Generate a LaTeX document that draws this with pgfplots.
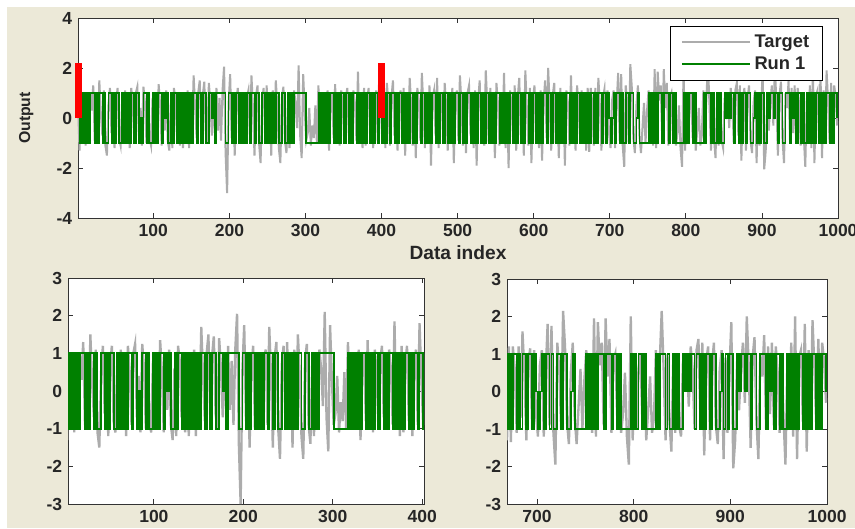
\documentclass[border=0pt]{standalone}
\usepackage{pgfplots}
\pgfplotsset{compat=1.18}
\usepackage{pgfplotstable}
\usepackage{fontspec}
\setmainfont{Liberation Sans}

\definecolor{figbg}{RGB}{236,233,216}
\definecolor{tgray}{RGB}{172,172,172}
\definecolor{rungreen}{RGB}{0,128,0}

% x = data index, t = target, r = run 1 output
\pgfplotstableread[row sep=\\]{
x t r\\
1 0.6 1\\ 3 -1.3 -1\\ 5 0.9 1\\ 7 -0.8 -1\\ 9 0.4 1\\ 11 -1.1 -1\\ 13 0.7 1\\ 15 -0.5 -1\\ 17 1.0 1\\ 19 0.3 1\\
21 1.3 1\\ 23 -0.9 -1\\ 25 0.8 1\\ 27 -1.0 -1\\ 29 1.5 1\\ 31 0.2 1\\ 33 -0.7 -1\\ 35 1.1 1\\ 37 -1.1 -1\\ 39 -1.5 -1\\
41 0.5 1\\ 43 1.2 1\\ 45 -0.6 -1\\ 47 0.9 1\\ 49 -1.2 -1\\ 51 0.6 1\\ 53 1.2 1\\ 55 -0.8 -1\\ 57 -1.1 -1\\ 59 0.7 1\\
61 -1.0 -1\\ 63 1.1 1\\ 65 -0.4 -1\\ 67 0.8 1\\ 69 -1.2 -1\\ 71 1.2 1\\ 73 0.5 1\\ 75 -0.9 -1\\ 77 1.0 1\\ 79 1.25 1\\
81 -0.7 -1\\ 83 0.4 0\\ 85 -1.1 -1\\ 87 1.25 1\\ 89 0.6 1\\ 91 -1.0 -1\\ 93 0.9 1\\ 95 -0.8 -1\\ 97 -1.1 -1\\ 99 0.8 1\\
101 -0.6 -1\\ 103 1.0 1\\ 105 -0.9 -1\\ 107 1.35 1\\ 109 0.5 1\\ 111 -1.1 -1\\ 113 0.7 1\\ 115 -0.5 0\\ 117 1.1 1\\ 119 -0.9 -1\\
121 -1.3 -1\\ 123 0.6 1\\ 125 -1.2 -1\\ 127 1.2 1\\ 129 0.8 1\\ 131 -0.7 -1\\ 133 0.9 1\\ 135 -1.1 -1\\ 137 1.0 1\\ 139 -1.2 -1\\
141 0.5 1\\ 143 -0.9 -1\\ 145 1.1 1\\ 147 -1.2 -1\\ 149 0.7 1\\ 151 -0.6 -1\\ 153 1.7 1\\ 155 0.4 1\\ 157 -0.8 -1\\ 159 1.0 1\\
161 1.5 1\\ 163 -0.7 -1\\ 165 0.9 1\\ 167 1.45 1\\ 169 -0.6 -1\\ 171 -1.0 -1\\ 173 1.4 1\\ 175 0.6 1\\ 177 -0.7 0\\ 179 0.9 1\\
181 -0.6 -1\\ 183 1.2 1\\ 185 -0.5 1\\ 187 0.8 1\\ 189 -0.9 1\\ 191 1.1 1\\ 193 2.05 1\\ 195 -1.4 -1\\ 197 -3.0 -1\\ 199 0.6 1\\
201 1.75 1\\ 203 -0.8 -1\\ 205 0.9 1\\ 207 -1.5 -1\\ 209 0.6 1\\ 211 1.2 1\\ 213 -1.0 -1\\ 215 0.7 1\\ 217 -0.9 -1\\ 219 1.0 1\\
221 -0.7 -1\\ 223 0.8 1\\ 225 1.1 1\\ 227 -0.9 -1\\ 229 1.7 1\\ 231 0.4 1\\ 233 -1.5 -1\\ 235 0.9 1\\ 237 1.3 1\\ 239 -1.0 -1\\
241 -1.8 -1\\ 243 0.7 1\\ 245 1.2 1\\ 247 -0.8 -1\\ 249 1.3 1\\ 251 -0.6 -1\\ 253 0.9 1\\ 255 -1.5 -1\\ 257 1.1 1\\ 259 -0.9 -1\\
261 1.5 1\\ 263 0.5 1\\ 265 -1.2 -1\\ 267 -1.8 -1\\ 269 0.8 1\\ 271 1.25 1\\ 273 -0.9 -1\\ 275 -1.4 -1\\ 277 0.7 1\\ 279 -1.2 -1\\
281 0.9 1\\ 283 -1.0 -1\\ 285 1.1 1\\ 287 0.6 1\\ 289 -0.4 1\\ 291 2.1 1\\ 293 -0.7 1\\ 295 -1.6 1\\ 297 1.75 1\\ 299 0.3 1\\
301 -0.9 -1\\ 303 -0.6 -1\\ 305 0.4 -1\\ 307 -1.1 -1\\ 309 -0.3 -1\\ 311 -0.8 -1\\ 313 0.5 -1\\ 315 -1.0 -1\\ 317 1.3 1\\ 319 -0.6 -1\\
321 0.9 1\\ 323 -1.0 -1\\ 325 0.8 1\\ 327 -0.7 -1\\ 329 1.1 1\\ 331 -1.3 -1\\ 333 0.6 1\\ 335 1.0 1\\ 337 -0.8 -1\\ 339 1.35 1\\
341 -0.9 -1\\ 343 0.7 1\\ 345 -1.1 -1\\ 347 1.1 1\\ 349 0.5 1\\ 351 -1.0 -1\\ 353 0.8 1\\ 355 1.2 1\\ 357 -0.7 -1\\ 359 0.9 1\\
361 -1.0 -1\\ 363 1.1 1\\ 365 0.6 1\\ 367 -0.9 -1\\ 369 1.85 1\\ 371 -0.6 -1\\ 373 0.8 1\\ 375 -1.2 -1\\ 377 1.2 1\\ 379 -1.1 -1\\
381 0.7 1\\ 383 1.2 1\\ 385 -0.8 -1\\ 387 1.0 1\\ 389 -1.2 -1\\ 391 0.6 1\\ 393 1.1 1\\ 395 -0.9 -1\\ 397 1.8 1\\ 399 0.4 1\\
401 -0.9 -1\\ 403 1.0 1\\ 405 -1.2 -1\\ 407 1.4 1\\ 409 0.6 1\\ 411 -1.1 -1\\ 413 0.8 1\\ 415 1.5 1\\ 417 -0.7 -1\\ 419 0.9 1\\
421 -1.3 -1\\ 423 0.7 1\\ 425 1.1 1\\ 427 -0.9 -1\\ 429 1.2 1\\ 431 -1.5 -1\\ 433 0.6 1\\ 435 -0.8 -1\\ 437 1.6 1\\ 439 0.5 1\\
441 -1.1 -1\\ 443 0.9 1\\ 445 -1.6 -1\\ 447 1.2 1\\ 449 0.7 1\\ 451 -0.9 -1\\ 453 1.8 1\\ 455 0.4 1\\ 457 -1.2 -1\\ 459 1.0 1\\
461 -0.8 -1\\ 463 1.3 1\\ 465 -1.9 -1\\ 467 0.8 1\\ 469 1.1 1\\ 471 -0.7 -1\\ 473 1.6 1\\ 475 -1.2 -1\\ 477 0.6 1\\ 479 1.0 1\\
481 -1.0 -1\\ 483 1.4 1\\ 485 0.5 1\\ 487 -1.3 -1\\ 489 0.9 1\\ 491 -0.6 -1\\ 493 1.2 1\\ 495 -1.8 -1\\ 497 0.7 1\\ 499 1.1 1\\
501 -0.9 -1\\ 503 1.7 1\\ 505 0.6 1\\ 507 -1.1 -1\\ 509 0.8 1\\ 511 -1.4 -1\\ 513 1.0 1\\ 515 1.3 1\\ 517 -0.7 -1\\ 519 0.9 1\\
521 -1.2 -1\\ 523 1.1 1\\ 525 -1.9 -1\\ 527 0.7 1\\ 529 1.5 1\\ 531 -0.8 -1\\ 533 0.9 1\\ 535 -1.1 -1\\ 537 1.9 1\\ 539 0.5 1\\
541 -1.0 -1\\ 543 1.2 1\\ 545 -0.7 -1\\ 547 0.8 1\\ 549 -1.6 -1\\ 551 1.4 1\\ 553 0.6 1\\ 555 -1.1 -1\\ 557 1.0 1\\ 559 -0.8 -1\\
561 1.8 1\\ 563 -1.2 -1\\ 565 0.7 1\\ 567 -2.0 -1\\ 569 1.1 1\\ 571 0.5 1\\ 573 -0.9 -1\\ 575 1.3 1\\ 577 -1.3 -1\\ 579 0.8 1\\
581 1.6 1\\ 583 -0.7 -1\\ 585 0.9 1\\ 587 -1.5 -1\\ 589 1.9 1\\ 591 0.4 1\\ 593 -1.1 -1\\ 595 1.2 1\\ 597 -1.8 -1\\ 599 0.7 1\\
601 1.3 1\\ 603 -0.9 -1\\ 605 0.8 1\\ 607 -1.2 -1\\ 609 1.1 1\\ 611 -1.7 -1\\ 613 0.6 1\\ 615 1.5 1\\ 617 -0.8 -1\\ 619 2.0 1\\
621 0.5 1\\ 623 -1.3 -1\\ 625 0.9 1\\ 627 1.4 1\\ 629 -1.0 -1\\ 631 0.7 1\\ 633 -1.6 -1\\ 635 1.2 1\\ 637 -0.8 -1\\ 639 1.0 1\\
641 -1.9 -1\\ 643 1.1 1\\ 645 0.6 1\\ 647 -1.1 -1\\ 649 1.7 1\\ 651 -0.7 -1\\ 653 0.9 1\\ 655 -1.3 -1\\ 657 1.3 1\\ 659 0.5 1\\
661 -1.0 -1\\ 663 1.1 1\\ 665 -0.8 -1\\ 667 0.7 1\\ 669 -1.3 -1\\ 671 1.2 1\\ 673 -1.35 -1\\ 675 1.2 1\\ 677 0.6 1\\ 679 -1.1 -1\\
681 1.2 1\\ 683 -0.7 -1\\ 685 1.6 1\\ 687 0.5 1\\ 689 -1.3 -1\\ 691 0.8 1\\ 693 1.15 1\\ 695 -1.0 -1\\ 697 1.1 1\\ 699 -0.6 0\\
701 -1.2 -1\\ 703 0.7 0\\ 705 1.1 1\\ 707 -1.2 -1\\ 709 0.5 1\\ 711 1.8 1\\ 713 -0.9 -1\\ 715 1.75 1\\ 717 -1.1 -1\\ 719 -1.95 -1\\
721 1.3 1\\ 723 0.6 1\\ 725 -1.0 -1\\ 727 2.15 1\\ 729 1.2 1\\ 731 -0.8 -1\\ 733 -1.4 -1\\ 735 0.5 0\\ 737 1.3 1\\ 739 -0.7 -1\\
741 -1.4 -1\\ 743 -0.4 -1\\ 745 0.6 -1\\ 747 -1.0 -1\\ 749 0.3 -1\\ 751 1.1 1\\ 753 -0.8 -1\\ 755 0.9 1\\ 757 -1.1 -1\\ 759 1.95 1\\
761 -1.2 -1\\ 763 1.85 1\\ 765 0.7 1\\ 767 1.3 1\\ 769 -0.9 -1\\ 771 1.95 1\\ 773 0.4 1\\ 775 1.4 1\\ 777 -1.1 -1\\ 779 0.8 1\\
781 1.0 1\\ 783 -0.7 -1\\ 785 0.9 1\\ 787 -1.1 -1\\ 789 -0.6 -1\\ 791 0.5 -1\\ 793 -1.2 -1\\ 795 -1.95 -1\\ 797 2.0 1\\ 799 -1.3 -1\\
801 0.8 1\\ 803 -1.0 -1\\ 805 0.6 1\\ 807 1.0 1\\ 809 -0.8 -1\\ 811 0.9 1\\ 813 -1.3 -1\\ 815 -0.5 -1\\ 817 0.4 -1\\ 819 -1.1 -1\\
821 -0.7 -1\\ 823 1.1 1\\ 825 -0.9 -1\\ 827 0.8 1\\ 829 2.15 1\\ 831 0.6 1\\ 833 -1.3 -1\\ 835 1.0 1\\ 837 -0.8 -1\\ 839 -1.6 -1\\
841 0.9 1\\ 843 -1.1 -1\\ 845 0.7 1\\ 847 -0.9 -1\\ 849 -1.2 -1\\ 851 0.8 1\\ 853 0.3 0\\ 855 1.0 1\\ 857 -0.4 0\\ 859 1.2 1\\
861 0.6 1\\ 863 -1.0 -1\\ 865 1.1 1\\ 867 1.4 1\\ 869 -0.7 -1\\ 871 1.3 1\\ 873 -1.7 -1\\ 875 0.8 1\\ 877 1.2 1\\ 879 -1.3 -1\\
881 0.7 1\\ 883 1.3 1\\ 885 -0.9 -1\\ 887 -1.4 -1\\ 889 0.6 0\\ 891 1.1 1\\ 893 -1.8 -1\\ 895 0.9 1\\ 897 -1.1 -1\\ 899 0.5 1\\
901 1.85 1\\ 903 -2.05 -1\\ 905 -1.3 -1\\ 907 0.8 1\\ 909 -0.5 0\\ 911 0.6 1\\ 913 1.3 1\\ 915 -0.3 0\\ 917 2.0 1\\ 919 0.7 1\\
921 -1.5 -1\\ 923 0.9 1\\ 925 1.45 1\\ 927 -0.8 -1\\ 929 -1.8 -1\\ 931 1.0 1\\ 933 0.4 1\\ 935 1.5 1\\ 937 -1.0 -1\\ 939 1.2 1\\
941 -0.6 0\\ 943 1.3 1\\ 945 -0.9 -1\\ 947 1.2 1\\ 949 0.5 1\\ 951 -1.1 -1\\ 953 1.0 1\\ 955 -0.7 -1\\ 957 -1.95 -1\\ 959 0.8 1\\
961 -1.0 -1\\ 963 1.3 1\\ 965 -1.2 -1\\ 967 2.0 1\\ 969 -1.8 -1\\ 971 0.9 1\\ 973 1.1 1\\ 975 -0.8 -1\\ 977 1.8 1\\ 979 -1.6 -1\\
981 1.1 1\\ 983 -0.9 -1\\ 985 1.9 1\\ 987 0.6 1\\ 989 -1.0 -1\\ 991 1.4 1\\ 993 -0.5 -1\\ 995 1.3 1\\ 997 0.8 1\\ 999 -0.3 0\\
}\runs

\pgfplotsset{
  mlab/.style={
    scale only axis, anchor=north west,
    axis background/.style={fill=white},
    tick align=inside, major tick length=3pt,
    axis line style={black!80, line width=0.6pt},
    tick style={black!80, line width=0.5pt},
    tick label style={font=\fontsize{10.5}{12}\selectfont\bfseries, text=black!85},
    label style={font=\fontsize{11.5}{13}\selectfont\bfseries, text=black!85},
    /pgf/number format/assume math mode=true,
    /pgf/number format/1000 sep={},
  },
  tgt/.style={color=tgray, line width=1.2pt},
  run/.style={color=rungreen, line width=1.1pt, const plot},
}

\begin{document}
\begin{tikzpicture}
\useasboundingbox (0,0) rectangle (513pt,-316.8pt);
\fill[white] (0,0) rectangle (513pt,-316.8pt);
\fill[figbg] (4.2pt,-4.2pt) rectangle (513pt,-316.8pt);

% top: whole record
\begin{axis}[mlab, at={(46.8pt,-10.8pt)}, width=456pt, height=120pt,
  xmin=1, xmax=1000, ymin=-4, ymax=4,
  xtick={100,200,...,1000}, ytick={-4,-2,0,2,4},
  xlabel={Data index}, ylabel={Output},
  xlabel style={yshift=1pt},
  ylabel style={yshift=7pt, font=\fontsize{9.5}{11}\selectfont\bfseries},
  clip=false,
  legend cell align=left,
  legend style={at={(1,1)}, anchor=north east, xshift=-9pt, yshift=-4.8pt,
    draw=black, line width=0.6pt, fill=white,
    font=\fontsize{11}{13}\selectfont\bfseries, text=black!85,
    inner xsep=6pt, inner ysep=3pt},
  legend image code/.code={\draw[#1, const plot=false, line width=1.2pt] (0pt,0pt) -- (41pt,0pt);},
]
\addplot[tgt] table[x=x, y=t] {\runs};
\addlegendentry{Target}
\addplot[run, line width=1pt] table[x=x, y=r] {\runs};
\addlegendentry{Run 1}
\addplot[red, line width=4.2pt, forget plot] coordinates {(1,0) (1,2.2)};
\addplot[red, line width=4.2pt, forget plot] coordinates {(400,0) (400,2.2)};
\end{axis}

% bottom left: first 400 samples
\begin{axis}[mlab, at={(40.8pt,-166.8pt)}, width=213.6pt, height=135.6pt,
  xmin=4, xmax=402, ymin=-3, ymax=3,
  xtick={100,200,300,400}, ytick={-3,-2,...,3},
]
\addplot[tgt, line width=1.4pt] table[x=x, y=t] {\runs};
\addplot[run, line width=1.1pt] table[x=x, y=r] {\runs};
\end{axis}

% bottom right: last samples
\begin{axis}[mlab, at={(304.2pt,-167.4pt)}, width=192pt, height=135pt,
  xmin=669, xmax=1000, ymin=-3, ymax=3,
  xtick={700,800,900,1000}, ytick={-3,-2,...,3},
]
\addplot[tgt, line width=1.4pt] table[x=x, y=t] {\runs};
\addplot[run, line width=1.1pt] table[x=x, y=r] {\runs};
\end{axis}
\end{tikzpicture}
\end{document}
